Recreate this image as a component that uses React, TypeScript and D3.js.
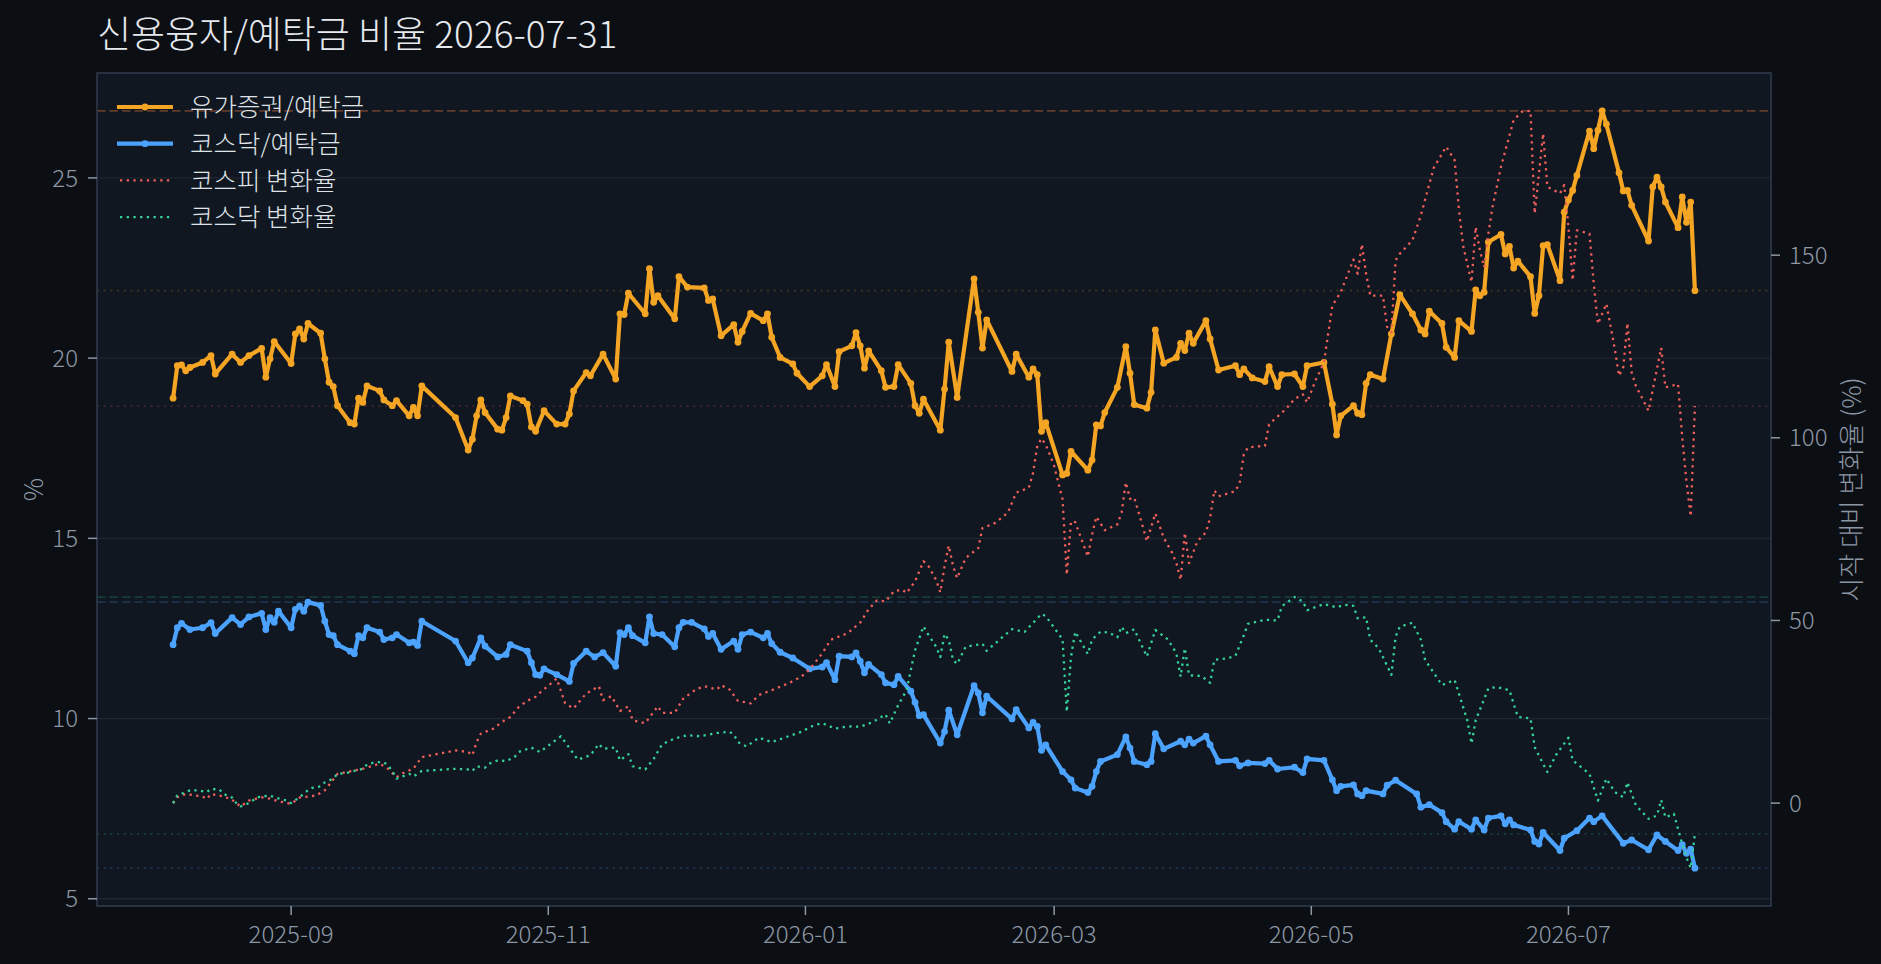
import { useEffect, useRef } from "react";
import * as d3 from "d3";

const TITLE = "신용융자/예탁금 비율 2026-07-31";
const LEFT_LABEL = "%";
const RIGHT_LABEL = "시작 대비 변화율 (%)";
const NAMES = ["유가증권/예탁금", "코스닥/예탁금", "코스피 변화율", "코스닥 변화율"];
const COLORS = ["#f5a524", "#4ba3ff", "#ef5f5b", "#34d399"];

// 유가증권 신용융자/예탁금 (%)
const securities: [string, number][] = [
  ["2025-08-04", 18.89], ["2025-08-05", 19.79], ["2025-08-06", 19.81], ["2025-08-07", 19.65],
  ["2025-08-08", 19.74], ["2025-08-11", 19.88], ["2025-08-13", 20.07], ["2025-08-14", 19.56],
  ["2025-08-18", 20.11], ["2025-08-20", 19.88], ["2025-08-22", 20.07], ["2025-08-25", 20.27],
  ["2025-08-26", 19.47], ["2025-08-27", 19.98], ["2025-08-28", 20.46], ["2025-09-01", 19.85],
  ["2025-09-02", 20.67], ["2025-09-03", 20.81], ["2025-09-04", 20.53], ["2025-09-05", 20.96],
  ["2025-09-08", 20.69], ["2025-09-09", 19.98], ["2025-09-10", 19.33], ["2025-09-11", 19.21],
  ["2025-09-12", 18.68], ["2025-09-15", 18.21], ["2025-09-16", 18.17], ["2025-09-17", 18.89],
  ["2025-09-18", 18.77], ["2025-09-19", 19.23], ["2025-09-22", 19.09], ["2025-09-23", 18.84],
  ["2025-09-25", 18.68], ["2025-09-26", 18.82], ["2025-09-29", 18.4], ["2025-09-30", 18.63],
  ["2025-10-01", 18.4], ["2025-10-02", 19.23], ["2025-10-10", 18.35], ["2025-10-13", 17.45],
  ["2025-10-14", 17.75], ["2025-10-15", 18.4], ["2025-10-16", 18.84], ["2025-10-17", 18.49],
  ["2025-10-20", 18.03], ["2025-10-21", 18.0], ["2025-10-22", 18.35], ["2025-10-23", 18.95],
  ["2025-10-26", 18.82], ["2025-10-27", 18.72], ["2025-10-28", 18.09], ["2025-10-29", 17.97],
  ["2025-10-31", 18.54], ["2025-11-03", 18.17], ["2025-11-05", 18.17], ["2025-11-06", 18.45],
  ["2025-11-07", 19.09], ["2025-11-10", 19.6], ["2025-11-11", 19.51], ["2025-11-14", 20.11],
  ["2025-11-17", 19.42], ["2025-11-18", 21.23], ["2025-11-19", 21.21], ["2025-11-20", 21.8],
  ["2025-11-24", 21.23], ["2025-11-25", 22.48], ["2025-11-26", 21.55], ["2025-11-27", 21.73],
  ["2025-12-01", 21.09], ["2025-12-02", 22.26], ["2025-12-04", 21.97], ["2025-12-08", 21.95],
  ["2025-12-09", 21.6], ["2025-12-10", 21.64], ["2025-12-12", 20.62], ["2025-12-15", 20.93],
  ["2025-12-16", 20.44], ["2025-12-17", 20.74], ["2025-12-19", 21.24], ["2025-12-22", 21.04],
  ["2025-12-23", 21.23], ["2025-12-24", 20.58], ["2025-12-26", 20.02], ["2025-12-29", 19.84],
  ["2025-12-30", 19.58], ["2026-01-02", 19.21], ["2026-01-05", 19.51], ["2026-01-06", 19.82],
  ["2026-01-08", 19.21], ["2026-01-09", 20.18], ["2026-01-12", 20.34], ["2026-01-13", 20.71],
  ["2026-01-14", 20.34], ["2026-01-15", 19.72], ["2026-01-16", 20.2], ["2026-01-19", 19.65],
  ["2026-01-20", 19.19], ["2026-01-22", 19.21], ["2026-01-23", 19.82], ["2026-01-26", 19.3],
  ["2026-01-27", 18.68], ["2026-01-28", 18.47], ["2026-01-29", 18.86], ["2026-02-02", 18.0],
  ["2026-02-03", 19.14], ["2026-02-04", 20.44], ["2026-02-06", 18.91], ["2026-02-10", 22.2],
  ["2026-02-11", 21.27], ["2026-02-12", 20.28], ["2026-02-13", 21.06], ["2026-02-19", 19.63],
  ["2026-02-20", 20.11], ["2026-02-23", 19.47], ["2026-02-24", 19.7], ["2026-02-25", 19.54],
  ["2026-02-26", 17.97], ["2026-02-27", 18.21], ["2026-03-03", 16.76], ["2026-03-04", 16.8],
  ["2026-03-05", 17.41], ["2026-03-09", 16.89], ["2026-03-10", 17.17], ["2026-03-11", 18.15],
  ["2026-03-12", 18.12], ["2026-03-13", 18.49], ["2026-03-16", 19.19], ["2026-03-18", 20.32],
  ["2026-03-19", 19.58], ["2026-03-20", 18.71], ["2026-03-23", 18.61], ["2026-03-24", 19.05],
  ["2026-03-25", 20.78], ["2026-03-27", 19.86], ["2026-03-30", 20.02], ["2026-03-31", 20.41],
  ["2026-04-01", 20.21], ["2026-04-02", 20.69], ["2026-04-03", 20.41], ["2026-04-06", 21.04],
  ["2026-04-07", 20.53], ["2026-04-09", 19.67], ["2026-04-13", 19.79], ["2026-04-14", 19.54],
  ["2026-04-15", 19.7], ["2026-04-17", 19.45], ["2026-04-20", 19.35], ["2026-04-21", 19.76],
  ["2026-04-23", 19.21], ["2026-04-24", 19.54], ["2026-04-27", 19.56], ["2026-04-29", 19.21],
  ["2026-04-30", 19.79], ["2026-05-04", 19.88], ["2026-05-06", 18.72], ["2026-05-07", 17.87],
  ["2026-05-08", 18.4], ["2026-05-11", 18.68], ["2026-05-12", 18.47], ["2026-05-13", 18.43],
  ["2026-05-14", 19.3], ["2026-05-15", 19.54], ["2026-05-18", 19.42], ["2026-05-20", 20.67],
  ["2026-05-22", 21.76], ["2026-05-25", 21.23], ["2026-05-27", 20.78], ["2026-05-28", 20.67],
  ["2026-05-29", 21.3], ["2026-06-01", 20.96], ["2026-06-02", 20.3], ["2026-06-04", 20.02],
  ["2026-06-05", 21.04], ["2026-06-08", 20.74], ["2026-06-09", 21.89], ["2026-06-10", 21.73],
  ["2026-06-11", 21.83], ["2026-06-12", 23.22], ["2026-06-15", 23.43], ["2026-06-16", 22.89],
  ["2026-06-17", 23.1], ["2026-06-18", 22.5], ["2026-06-19", 22.69], ["2026-06-22", 22.26],
  ["2026-06-23", 21.24], ["2026-06-24", 21.73], ["2026-06-25", 23.12], ["2026-06-26", 23.15],
  ["2026-06-29", 22.15], ["2026-06-30", 24.05], ["2026-07-01", 24.39], ["2026-07-02", 24.65],
  ["2026-07-03", 25.07], ["2026-07-06", 26.3], ["2026-07-07", 25.81], ["2026-07-08", 26.32],
  ["2026-07-09", 26.86], ["2026-07-10", 26.49], ["2026-07-13", 25.14], ["2026-07-14", 24.64],
  ["2026-07-15", 24.65], ["2026-07-16", 24.24], ["2026-07-20", 23.25], ["2026-07-21", 24.75],
  ["2026-07-22", 25.02], ["2026-07-23", 24.75], ["2026-07-24", 24.33], ["2026-07-27", 23.62],
  ["2026-07-28", 24.47], ["2026-07-29", 23.77], ["2026-07-30", 24.33], ["2026-07-31", 21.87],
];

// 코스닥 신용융자/예탁금 (%)
const kosdaqRatio: [string, number][] = [
  ["2025-08-04", 12.05], ["2025-08-05", 12.52], ["2025-08-06", 12.64], ["2025-08-08", 12.47],
  ["2025-08-11", 12.52], ["2025-08-13", 12.66], ["2025-08-14", 12.36], ["2025-08-18", 12.8],
  ["2025-08-20", 12.61], ["2025-08-22", 12.82], ["2025-08-25", 12.92], ["2025-08-26", 12.47],
  ["2025-08-27", 12.8], ["2025-08-28", 12.67], ["2025-08-29", 12.98], ["2025-09-01", 12.52],
  ["2025-09-02", 13.03], ["2025-09-03", 13.12], ["2025-09-04", 12.98], ["2025-09-05", 13.23],
  ["2025-09-08", 13.14], ["2025-09-09", 12.7], ["2025-09-10", 12.33], ["2025-09-11", 12.3],
  ["2025-09-12", 12.05], ["2025-09-15", 11.87], ["2025-09-16", 11.8], ["2025-09-17", 12.3],
  ["2025-09-18", 12.24], ["2025-09-19", 12.52], ["2025-09-22", 12.4], ["2025-09-23", 12.19],
  ["2025-09-25", 12.24], ["2025-09-26", 12.33], ["2025-09-29", 12.1], ["2025-09-30", 12.12],
  ["2025-10-01", 12.03], ["2025-10-02", 12.7], ["2025-10-10", 12.15], ["2025-10-13", 11.55],
  ["2025-10-14", 11.68], ["2025-10-16", 12.24], ["2025-10-17", 12.01], ["2025-10-20", 11.71],
  ["2025-10-22", 11.78], ["2025-10-23", 12.05], ["2025-10-27", 11.87], ["2025-10-28", 11.55],
  ["2025-10-29", 11.22], ["2025-10-30", 11.2], ["2025-10-31", 11.38], ["2025-11-03", 11.22],
  ["2025-11-06", 11.03], ["2025-11-07", 11.53], ["2025-11-10", 11.87], ["2025-11-12", 11.71],
  ["2025-11-14", 11.83], ["2025-11-17", 11.45], ["2025-11-18", 12.38], ["2025-11-19", 12.33],
  ["2025-11-20", 12.52], ["2025-11-21", 12.3], ["2025-11-24", 12.1], ["2025-11-25", 12.82],
  ["2025-11-26", 12.36], ["2025-11-28", 12.33], ["2025-12-01", 11.99], ["2025-12-02", 12.52],
  ["2025-12-03", 12.67], ["2025-12-05", 12.67], ["2025-12-08", 12.49], ["2025-12-09", 12.28],
  ["2025-12-10", 12.36], ["2025-12-12", 11.92], ["2025-12-15", 12.15], ["2025-12-16", 11.92],
  ["2025-12-17", 12.33], ["2025-12-19", 12.4], ["2025-12-22", 12.24], ["2025-12-23", 12.36],
  ["2025-12-24", 12.08], ["2025-12-26", 11.84], ["2025-12-29", 11.68], ["2026-01-02", 11.38],
  ["2026-01-05", 11.43], ["2026-01-06", 11.55], ["2026-01-08", 11.08], ["2026-01-09", 11.73],
  ["2026-01-12", 11.71], ["2026-01-13", 11.82], ["2026-01-14", 11.59], ["2026-01-15", 11.27],
  ["2026-01-16", 11.5], ["2026-01-19", 11.22], ["2026-01-20", 10.99], ["2026-01-22", 10.94],
  ["2026-01-23", 11.17], ["2026-01-26", 10.76], ["2026-01-27", 10.45], ["2026-01-28", 10.08],
  ["2026-01-29", 10.11], ["2026-02-02", 9.32], ["2026-02-03", 9.64], ["2026-02-04", 10.23],
  ["2026-02-06", 9.55], ["2026-02-10", 10.91], ["2026-02-11", 10.71], ["2026-02-12", 10.16],
  ["2026-02-13", 10.62], ["2026-02-19", 9.99], ["2026-02-20", 10.25], ["2026-02-23", 9.74],
  ["2026-02-24", 9.89], ["2026-02-25", 9.78], ["2026-02-26", 9.12], ["2026-02-27", 9.27],
  ["2026-03-03", 8.53], ["2026-03-05", 8.3], ["2026-03-06", 8.07], ["2026-03-09", 7.95],
  ["2026-03-10", 8.12], ["2026-03-11", 8.53], ["2026-03-12", 8.81], ["2026-03-16", 9.0],
  ["2026-03-18", 9.49], ["2026-03-19", 9.18], ["2026-03-20", 8.81], ["2026-03-23", 8.72],
  ["2026-03-24", 8.81], ["2026-03-25", 9.58], ["2026-03-27", 9.16], ["2026-03-31", 9.37],
  ["2026-04-01", 9.27], ["2026-04-02", 9.43], ["2026-04-03", 9.32], ["2026-04-06", 9.51],
  ["2026-04-07", 9.27], ["2026-04-09", 8.81], ["2026-04-13", 8.84], ["2026-04-14", 8.69],
  ["2026-04-16", 8.77], ["2026-04-20", 8.75], ["2026-04-21", 8.84], ["2026-04-23", 8.6],
  ["2026-04-27", 8.65], ["2026-04-29", 8.5], ["2026-04-30", 8.88], ["2026-05-04", 8.84],
  ["2026-05-06", 8.3], ["2026-05-07", 8.0], ["2026-05-08", 8.12], ["2026-05-11", 8.16],
  ["2026-05-12", 7.91], ["2026-05-13", 7.86], ["2026-05-14", 8.0], ["2026-05-18", 7.91],
  ["2026-05-19", 8.15], ["2026-05-21", 8.29], ["2026-05-26", 7.91], ["2026-05-27", 7.54],
  ["2026-05-29", 7.61], ["2026-06-01", 7.39], ["2026-06-02", 7.14], ["2026-06-04", 6.93],
  ["2026-06-05", 7.14], ["2026-06-08", 6.93], ["2026-06-09", 7.19], ["2026-06-11", 6.91],
  ["2026-06-12", 7.24], ["2026-06-15", 7.3], ["2026-06-16", 7.08], ["2026-06-17", 7.19],
  ["2026-06-18", 7.05], ["2026-06-22", 6.91], ["2026-06-23", 6.59], ["2026-06-24", 6.52],
  ["2026-06-25", 6.84], ["2026-06-29", 6.34], ["2026-06-30", 6.68], ["2026-07-03", 6.89],
  ["2026-07-06", 7.24], ["2026-07-07", 7.14], ["2026-07-09", 7.3], ["2026-07-14", 6.54],
  ["2026-07-16", 6.63], ["2026-07-20", 6.36], ["2026-07-22", 6.77], ["2026-07-24", 6.59],
  ["2026-07-27", 6.34], ["2026-07-28", 6.5], ["2026-07-29", 6.26], ["2026-07-30", 6.38],
  ["2026-07-31", 5.85],
];

// 코스피 시작 대비 변화율 (%)
const kospiChange: [string, number][] = [
  ["2025-08-04", 0.0], ["2025-08-05", 1.6], ["2025-08-07", 2.5], ["2025-08-11", 1.8],
  ["2025-08-12", 1.1], ["2025-08-13", 2.5], ["2025-08-16", 1.8], ["2025-08-18", 0.9],
  ["2025-08-20", -0.9], ["2025-08-22", 0.7], ["2025-08-25", 1.6], ["2025-08-27", 1.2],
  ["2025-08-29", 0.5], ["2025-09-01", -0.2], ["2025-09-03", 1.5], ["2025-09-07", 2.1],
  ["2025-09-09", 3.5], ["2025-09-12", 8.0], ["2025-09-15", 8.7], ["2025-09-18", 9.4],
  ["2025-09-20", 10.1], ["2025-09-22", 10.8], ["2025-09-24", 9.4], ["2025-09-26", 7.1],
  ["2025-09-28", 8.5], ["2025-09-30", 9.4], ["2025-10-02", 12.6], ["2025-10-10", 14.4],
  ["2025-10-13", 14.0], ["2025-10-14", 13.1], ["2025-10-15", 16.7], ["2025-10-16", 19.0],
  ["2025-10-19", 20.4], ["2025-10-21", 22.2], ["2025-10-23", 23.6], ["2025-10-25", 26.3],
  ["2025-10-27", 28.0], ["2025-10-29", 29.1], ["2025-10-30", 30.2], ["2025-11-03", 34.1],
  ["2025-11-05", 27.3], ["2025-11-07", 25.9], ["2025-11-10", 30.0], ["2025-11-13", 32.0],
  ["2025-11-14", 28.2], ["2025-11-16", 29.3], ["2025-11-18", 25.2], ["2025-11-20", 26.5],
  ["2025-11-21", 22.7], ["2025-11-24", 21.9], ["2025-11-27", 26.5], ["2025-11-28", 24.7],
  ["2025-12-01", 24.7], ["2025-12-03", 28.6], ["2025-12-06", 31.1], ["2025-12-08", 32.0],
  ["2025-12-11", 31.1], ["2025-12-12", 32.3], ["2025-12-14", 31.1], ["2025-12-16", 28.0],
  ["2025-12-19", 27.3], ["2025-12-21", 29.6], ["2025-12-24", 30.9], ["2025-12-28", 32.8],
  ["2025-12-31", 34.6], ["2026-01-02", 36.6], ["2026-01-05", 41.0], ["2026-01-07", 44.7],
  ["2026-01-11", 46.5], ["2026-01-14", 49.4], ["2026-01-16", 53.1], ["2026-01-18", 55.5],
  ["2026-01-20", 55.2], ["2026-01-22", 58.0], ["2026-01-24", 58.4], ["2026-01-25", 57.5],
  ["2026-01-27", 60.7], ["2026-01-29", 66.2], ["2026-01-30", 65.3], ["2026-02-01", 61.1],
  ["2026-02-02", 57.7], ["2026-02-03", 64.8], ["2026-02-04", 70.5], ["2026-02-05", 65.0],
  ["2026-02-06", 61.6], ["2026-02-08", 67.1], ["2026-02-11", 69.8], ["2026-02-12", 75.3],
  ["2026-02-15", 76.7], ["2026-02-18", 79.5], ["2026-02-19", 82.2], ["2026-02-20", 85.0],
  ["2026-02-23", 86.3], ["2026-02-24", 90.4], ["2026-02-25", 97.8], ["2026-02-26", 99.8],
  ["2026-02-27", 98.2], ["2026-03-01", 92.3], ["2026-03-03", 83.1], ["2026-03-04", 62.5],
  ["2026-03-05", 77.1], ["2026-03-06", 76.9], ["2026-03-09", 67.5], ["2026-03-10", 73.5],
  ["2026-03-11", 78.4], ["2026-03-13", 74.7], ["2026-03-16", 76.3], ["2026-03-17", 79.5],
  ["2026-03-18", 87.8], ["2026-03-19", 83.3], ["2026-03-20", 83.6], ["2026-03-22", 75.8],
  ["2026-03-23", 71.7], ["2026-03-25", 79.3], ["2026-03-27", 72.6], ["2026-03-29", 68.5],
  ["2026-03-30", 65.7], ["2026-03-31", 61.1], ["2026-04-01", 74.0], ["2026-04-02", 65.7],
  ["2026-04-04", 71.7], ["2026-04-06", 74.1], ["2026-04-07", 78.1], ["2026-04-08", 85.6],
  ["2026-04-09", 84.0], ["2026-04-13", 85.4], ["2026-04-14", 87.7], ["2026-04-15", 95.5],
  ["2026-04-16", 97.4], ["2026-04-20", 97.8], ["2026-04-21", 103.7], ["2026-04-25", 107.9],
  ["2026-04-27", 110.6], ["2026-04-29", 111.9], ["2026-04-30", 109.7], ["2026-05-02", 115.7],
  ["2026-05-04", 120.6], ["2026-05-06", 136.2], ["2026-05-08", 139.9], ["2026-05-11", 148.8],
  ["2026-05-12", 144.9], ["2026-05-13", 153.0], ["2026-05-14", 144.9], ["2026-05-15", 138.9],
  ["2026-05-18", 138.9], ["2026-05-19", 130.3], ["2026-05-20", 128.9], ["2026-05-21", 148.6],
  ["2026-05-22", 150.4], ["2026-05-25", 154.1], ["2026-05-27", 160.9], ["2026-05-30", 173.8],
  ["2026-06-02", 179.7], ["2026-06-04", 176.0], ["2026-06-05", 162.8], ["2026-06-06", 152.7],
  ["2026-06-08", 142.6], ["2026-06-09", 157.7], ["2026-06-10", 151.3], ["2026-06-11", 146.7],
  ["2026-06-12", 155.9], ["2026-06-13", 163.2], ["2026-06-15", 174.2], ["2026-06-18", 187.0],
  ["2026-06-20", 189.3], ["2026-06-22", 189.5], ["2026-06-23", 161.4], ["2026-06-25", 183.3],
  ["2026-06-26", 168.7], ["2026-06-29", 166.9], ["2026-06-30", 169.2], ["2026-07-01", 157.7],
  ["2026-07-02", 143.1], ["2026-07-03", 156.8], ["2026-07-06", 155.9], ["2026-07-07", 142.2],
  ["2026-07-08", 131.2], ["2026-07-10", 136.7], ["2026-07-12", 124.3], ["2026-07-13", 117.0],
  ["2026-07-14", 119.3], ["2026-07-15", 131.4], ["2026-07-16", 117.9], ["2026-07-17", 114.2],
  ["2026-07-20", 107.4], ["2026-07-23", 124.6], ["2026-07-24", 113.8], ["2026-07-27", 114.7],
  ["2026-07-28", 100.0], ["2026-07-29", 88.0], ["2026-07-30", 78.5], ["2026-07-31", 108.7],
];

// 코스닥 시작 대비 변화율 (%)
const kosdaqChange: [string, number][] = [
  ["2025-08-04", 0.0], ["2025-08-05", 2.1], ["2025-08-07", 3.0], ["2025-08-08", 3.5],
  ["2025-08-10", 3.5], ["2025-08-12", 3.0], ["2025-08-13", 3.9], ["2025-08-15", 3.7],
  ["2025-08-16", 2.5], ["2025-08-18", 1.5], ["2025-08-19", 0.0], ["2025-08-20", -0.9],
  ["2025-08-22", 0.0], ["2025-08-24", 1.6], ["2025-08-27", 2.1], ["2025-08-28", 1.6],
  ["2025-08-31", 0.7], ["2025-09-01", 0.0], ["2025-09-03", 1.6], ["2025-09-05", 3.5],
  ["2025-09-06", 4.2], ["2025-09-08", 4.6], ["2025-09-09", 5.7], ["2025-09-11", 6.7],
  ["2025-09-12", 8.0], ["2025-09-14", 8.2], ["2025-09-16", 8.8], ["2025-09-18", 9.4],
  ["2025-09-19", 10.6], ["2025-09-21", 11.2], ["2025-09-23", 11.2], ["2025-09-24", 10.3],
  ["2025-09-25", 8.8], ["2025-09-26", 6.7], ["2025-09-29", 8.0], ["2025-09-30", 7.3],
  ["2025-10-02", 8.8], ["2025-10-10", 9.4], ["2025-10-13", 9.2], ["2025-10-14", 8.8],
  ["2025-10-15", 10.1], ["2025-10-17", 9.7], ["2025-10-18", 10.8], ["2025-10-20", 11.7],
  ["2025-10-22", 11.5], ["2025-10-24", 12.6], ["2025-10-25", 14.0], ["2025-10-28", 15.2],
  ["2025-10-30", 14.0], ["2025-11-04", 18.3], ["2025-11-08", 11.9], ["2025-11-11", 13.1],
  ["2025-11-13", 16.2], ["2025-11-14", 14.9], ["2025-11-17", 15.2], ["2025-11-18", 11.7],
  ["2025-11-20", 13.4], ["2025-11-21", 10.1], ["2025-11-24", 9.2], ["2025-11-26", 12.1],
  ["2025-11-28", 16.1], ["2025-12-01", 17.7], ["2025-12-04", 18.6], ["2025-12-07", 18.3],
  ["2025-12-11", 19.2], ["2025-12-14", 19.5], ["2025-12-15", 18.8], ["2025-12-16", 16.7],
  ["2025-12-18", 15.5], ["2025-12-21", 17.9], ["2025-12-24", 16.7], ["2025-12-27", 17.9],
  ["2025-12-31", 19.5], ["2026-01-03", 21.3], ["2026-01-05", 21.9], ["2026-01-08", 20.4],
  ["2026-01-11", 21.0], ["2026-01-14", 20.9], ["2026-01-17", 22.2], ["2026-01-20", 24.3],
  ["2026-01-21", 21.8], ["2026-01-23", 26.8], ["2026-01-25", 30.9], ["2026-01-26", 36.4],
  ["2026-01-27", 41.8], ["2026-01-29", 48.4], ["2026-01-30", 46.4], ["2026-02-01", 42.8],
  ["2026-02-02", 40.0], ["2026-02-03", 46.3], ["2026-02-04", 44.7], ["2026-02-05", 39.2],
  ["2026-02-06", 38.1], ["2026-02-08", 42.8], ["2026-02-12", 43.6], ["2026-02-13", 41.7],
  ["2026-02-16", 44.7], ["2026-02-19", 47.6], ["2026-02-22", 46.9], ["2026-02-26", 51.8],
  ["2026-02-27", 51.2], ["2026-03-03", 44.8], ["2026-03-04", 25.0], ["2026-03-05", 40.1],
  ["2026-03-06", 46.9], ["2026-03-09", 40.8], ["2026-03-10", 44.8], ["2026-03-12", 46.9],
  ["2026-03-14", 46.7], ["2026-03-16", 45.4], ["2026-03-17", 48.3], ["2026-03-18", 46.5],
  ["2026-03-20", 47.6], ["2026-03-23", 40.1], ["2026-03-25", 47.4], ["2026-03-28", 44.8],
  ["2026-03-30", 41.0], ["2026-03-31", 34.6], ["2026-04-01", 42.4], ["2026-04-02", 35.0],
  ["2026-04-05", 34.8], ["2026-04-07", 32.9], ["2026-04-08", 39.2], ["2026-04-11", 39.6],
  ["2026-04-13", 40.3], ["2026-04-15", 46.0], ["2026-04-16", 49.1], ["2026-04-20", 50.2],
  ["2026-04-23", 50.0], ["2026-04-24", 53.9], ["2026-04-27", 56.4], ["2026-04-29", 55.2],
  ["2026-04-30", 52.8], ["2026-05-04", 54.5], ["2026-05-07", 53.6], ["2026-05-09", 54.3],
  ["2026-05-11", 54.0], ["2026-05-12", 50.6], ["2026-05-14", 50.9], ["2026-05-15", 44.7],
  ["2026-05-17", 42.4], ["2026-05-20", 35.1], ["2026-05-21", 45.6], ["2026-05-22", 48.3],
  ["2026-05-25", 49.4], ["2026-05-27", 44.7], ["2026-05-28", 39.2], ["2026-06-01", 32.3],
  ["2026-06-04", 33.7], ["2026-06-07", 22.7], ["2026-06-08", 16.3], ["2026-06-09", 22.7],
  ["2026-06-12", 31.4], ["2026-06-14", 31.8], ["2026-06-17", 30.9], ["2026-06-19", 23.6],
  ["2026-06-22", 23.2], ["2026-06-23", 15.3], ["2026-06-26", 8.5], ["2026-06-28", 13.1],
  ["2026-07-01", 17.9], ["2026-07-02", 11.7], ["2026-07-06", 8.0], ["2026-07-08", 0.7],
  ["2026-07-10", 6.7], ["2026-07-12", 3.0], ["2026-07-14", 1.6], ["2026-07-15", 5.7],
  ["2026-07-17", -0.6], ["2026-07-20", -4.3], ["2026-07-22", -3.4], ["2026-07-23", 0.9],
  ["2026-07-24", -3.9], ["2026-07-26", -2.9], ["2026-07-28", -11.2], ["2026-07-29", -14.9],
  ["2026-07-30", -17.8], ["2026-07-31", -8.4],
];

const W = 1881;
const H = 964;
const FONT = "'Noto Sans CJK KR', 'Noto Sans', sans-serif";

const App = () => {
  const ref = useRef(null);

  useEffect(() => {
    const svg = d3.select(ref.current);
    svg.selectAll("*").remove();

    const m = { left: 97, right: 1771, top: 73, bottom: 906 };
    const parse = d3.timeParse("%Y-%m-%d");

    const toPts = (arr) => arr.map(([d, v]) => ({ date: parse(d), v }));
    const series = [
      { pts: toPts(securities), axis: "L", solid: true },
      { pts: toPts(kosdaqRatio), axis: "L", solid: true },
      { pts: toPts(kospiChange), axis: "R", solid: false },
      { pts: toPts(kosdaqChange), axis: "R", solid: false },
    ];

    // matplotlib style 5% margins
    const pad = (ext) => {
      const p = (ext[1] - ext[0]) * 0.05;
      return [ext[0] - p, ext[1] + p];
    };
    const allDates = series[0].pts.map((d) => +d.date);
    const xd = pad(d3.extent(allDates));
    const x = d3.scaleTime().domain([new Date(xd[0]), new Date(xd[1])]).range([m.left, m.right]);

    const leftVals = [...series[0].pts, ...series[1].pts].map((d) => d.v);
    const rightVals = [...series[2].pts, ...series[3].pts].map((d) => d.v);
    const yL = d3.scaleLinear().domain(pad(d3.extent(leftVals))).range([m.bottom, m.top]);
    const yR = d3.scaleLinear().domain(pad(d3.extent(rightVals))).range([m.bottom, m.top]);

    svg.append("rect").attr("width", W).attr("height", H).attr("fill", "#0b0e13");
    svg
      .append("rect")
      .attr("x", m.left)
      .attr("y", m.top)
      .attr("width", m.right - m.left)
      .attr("height", m.bottom - m.top)
      .attr("fill", "#111720");

    // grid (left axis ticks)
    const leftTicks = yL.ticks(5);
    svg
      .append("g")
      .selectAll("line")
      .data(leftTicks)
      .enter()
      .append("line")
      .attr("x1", m.left)
      .attr("x2", m.right)
      .attr("y1", (d) => yL(d))
      .attr("y2", (d) => yL(d))
      .attr("stroke", "#1e2631")
      .attr("stroke-width", 1.3);

    const plot = svg.append("g");

    // reference lines: max (dashed), last value (dotted)
    series.forEach((s, i) => {
      const y = s.axis === "L" ? yL : yR;
      const maxV = d3.max(s.pts, (d) => d.v);
      const lastV = s.pts[s.pts.length - 1].v;
      plot
        .append("line")
        .attr("x1", m.left)
        .attr("x2", m.right)
        .attr("y1", y(maxV))
        .attr("y2", y(maxV))
        .attr("stroke", COLORS[i])
        .attr("stroke-opacity", 0.2)
        .attr("stroke-width", 1.8)
        .attr("stroke-dasharray", "8.5 4");
      plot
        .append("line")
        .attr("x1", m.left)
        .attr("x2", m.right)
        .attr("y1", y(lastV))
        .attr("y2", y(lastV))
        .attr("stroke", COLORS[i])
        .attr("stroke-opacity", 0.22)
        .attr("stroke-width", 1.8)
        .attr("stroke-dasharray", "2 4.7");
    });

    series.forEach((s, i) => {
      const y = s.axis === "L" ? yL : yR;
      const line = d3
        .line()
        .x((d) => x(d.date))
        .y((d) => y(d.v));
      const p = plot
        .append("path")
        .datum(s.pts)
        .attr("d", line)
        .attr("fill", "none")
        .attr("stroke", COLORS[i])
        .attr("stroke-linejoin", "round");
      if (s.solid) {
        p.attr("stroke-width", 4.2);
        plot
          .append("g")
          .selectAll("circle")
          .data(s.pts)
          .enter()
          .append("circle")
          .attr("cx", (d) => x(d.date))
          .attr("cy", (d) => y(d.v))
          .attr("r", 3.4)
          .attr("fill", COLORS[i]);
      } else {
        p.attr("stroke-width", 2.3).attr("stroke-dasharray", "2.3 4.4");
      }
    });

    // spines
    svg
      .append("rect")
      .attr("x", m.left)
      .attr("y", m.top)
      .attr("width", m.right - m.left)
      .attr("height", m.bottom - m.top)
      .attr("fill", "none")
      .attr("stroke", "#2e3a4a")
      .attr("stroke-width", 1.6);

    const tickColor = "#8d97a4";
    const tickFont = 24;
    const weight = 300;

    // left axis
    const gl = svg.append("g");
    leftTicks.forEach((t) => {
      gl.append("line")
        .attr("x1", m.left - 9).attr("x2", m.left)
        .attr("y1", yL(t)).attr("y2", yL(t))
        .attr("stroke", tickColor).attr("stroke-width", 1.5);
      gl.append("text")
        .attr("x", m.left - 19)
        .attr("y", yL(t))
        .attr("dy", "0.36em")
        .attr("text-anchor", "end")
        .attr("fill", tickColor)
        .style("font-family", FONT)
        .style("font-weight", weight)
        .style("font-size", tickFont + "px")
        .text(t);
    });

    // right axis
    const gr = svg.append("g");
    yR.ticks(5).forEach((t) => {
      gr.append("line")
        .attr("x1", m.right).attr("x2", m.right + 9)
        .attr("y1", yR(t)).attr("y2", yR(t))
        .attr("stroke", tickColor).attr("stroke-width", 1.5);
      gr.append("text")
        .attr("x", m.right + 18)
        .attr("y", yR(t))
        .attr("dy", "0.36em")
        .attr("text-anchor", "start")
        .attr("fill", tickColor)
        .style("font-family", FONT)
        .style("font-weight", weight)
        .style("font-size", tickFont + "px")
        .text(t);
    });

    // bottom axis
    const gb = svg.append("g");
    const fmt = d3.timeFormat("%Y-%m");
    x.ticks(d3.timeMonth.every(2)).forEach((t) => {
      gb.append("line")
        .attr("x1", x(t)).attr("x2", x(t))
        .attr("y1", m.bottom).attr("y2", m.bottom + 9)
        .attr("stroke", tickColor).attr("stroke-width", 1.5);
      gb.append("text")
        .attr("x", x(t))
        .attr("y", m.bottom + 37)
        .attr("text-anchor", "middle")
        .attr("fill", tickColor)
        .style("font-family", FONT)
        .style("font-weight", weight)
        .style("font-size", tickFont + "px")
        .text(fmt(t));
    });

    // axis labels
    svg
      .append("text")
      .attr("transform", `translate(43, ${(m.top + m.bottom) / 2}) rotate(-90)`)
      .attr("text-anchor", "middle")
      .attr("fill", tickColor)
      .style("font-family", FONT)
      .style("font-weight", weight)
      .style("font-size", "26px")
      .text(LEFT_LABEL);
    svg
      .append("text")
      .attr("transform", `translate(1861, ${(m.top + m.bottom) / 2}) rotate(-90)`)
      .attr("text-anchor", "middle")
      .attr("fill", tickColor)
      .style("font-family", FONT)
      .style("font-weight", weight)
      .style("font-size", "26px")
      .text(RIGHT_LABEL);

    // title
    svg
      .append("text")
      .attr("x", 97)
      .attr("y", 48)
      .attr("fill", "#e6e9ee")
      .style("font-family", FONT)
      .style("font-weight", weight)
      .style("font-size", "37px")
      .text(TITLE);

    // legend
    const lg = svg.append("g");
    NAMES.forEach((name, i) => {
      const cy = 107 + i * 36.7;
      const h = lg.append("line")
        .attr("x1", 117).attr("x2", 173)
        .attr("y1", cy).attr("y2", cy)
        .attr("stroke", COLORS[i]);
      if (i < 2) {
        h.attr("stroke-width", 4.2);
        lg.append("circle").attr("cx", 145).attr("cy", cy).attr("r", 3.4).attr("fill", COLORS[i]);
      } else {
        h.attr("x1", 120).attr("x2", 170).attr("stroke-width", 2.3).attr("stroke-dasharray", "2.3 4.4");
      }
      lg.append("text")
        .attr("x", 190)
        .attr("y", cy)
        .attr("dy", "0.36em")
        .attr("fill", "#dfe3e8")
        .style("font-family", FONT)
        .style("font-weight", weight)
        .style("font-size", "25.5px")
        .text(name);
    });
  }, []);

  return (
    <svg
      ref={ref}
      width={W}
      height={H}
      style={{ position: "absolute", left: 0, top: 0, display: "block" }}
    ></svg>
  );
};

export default App;
